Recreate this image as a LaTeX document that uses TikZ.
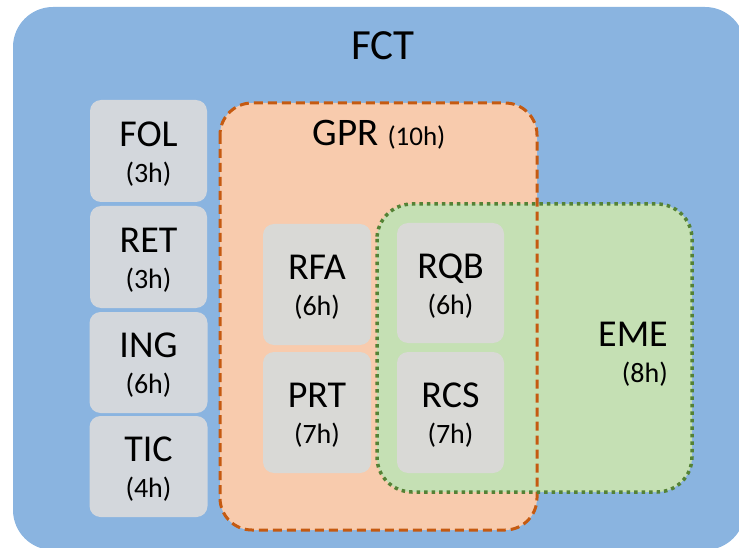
\documentclass[tikz,border=0pt]{standalone}
\usepackage{fontspec}
\setmainfont{Carlito}
\definecolor{fctblue}{HTML}{8AB4E0}
\definecolor{gprfill}{HTML}{F8CBAD}
\definecolor{gprline}{HTML}{C55A11}
\definecolor{emefill}{HTML}{C5E0B4}
\definecolor{emeline}{HTML}{548235}
\definecolor{grayL}{HTML}{D3D7DC}
\definecolor{grayI}{HTML}{D9D9D6}
\newcommand{\namefont}{\fontsize{38}{36}\selectfont}
\newcommand{\hrsfont}{\fontsize{28}{36}\selectfont}
\tikzset{
  course/.style={fill=grayL, draw=none, rounded corners=11pt, inner sep=0pt},
  incourse/.style={course, fill=grayI},
  coursetext/.style={align=center, font=\hrsfont, inner sep=0pt, yshift=-3pt},
}
\begin{document}
\begin{tikzpicture}[x=1pt,y=-1pt]
\useasboundingbox (0,0) rectangle (739,548);
% FCT
\path[fill=fctblue, rounded corners=40pt] (13,7) rectangle (745,550);
\node[font=\fontsize{43}{45}\selectfont, anchor=center] (fct) at (383,46) {FCT};
% fills
\path[fill=gprfill, rounded corners=32pt] (220,103) rectangle (537,530);
\path[fill=emefill, rounded corners=35pt] (377,204) rectangle (692,492);
% borders
\draw[gprline, line width=3pt, dash pattern=on 9pt off 5pt, rounded corners=32pt] (220,103) rectangle (537,530);
\draw[emeline, line width=3.5pt, dash pattern=on 3.5pt off 4pt, rounded corners=35pt] (377,204) rectangle (692,492);
% labels
\node[anchor=center] (gpr) at (379,135) {{\fontsize{39}{40}\selectfont GPR}\hspace{9pt}{\fontsize{27}{30}\selectfont (10h)}};
\node[align=right, anchor=east, font=\hrsfont, inner sep=0pt] (eme) at (668,354) {{\namefont EME}\\(8h)};
% left column
\node[course, minimum width=117pt, minimum height=102pt] (fol) at (148.5,151) {};
\node[course, minimum width=117pt, minimum height=102pt] (ret) at (148.5,257) {};
\node[course, minimum width=118pt, minimum height=101pt] (ing) at (148.5,362.5) {};
\node[course, minimum width=118pt, minimum height=101pt] (tic) at (148.5,466.5) {};
\node[coursetext] (folt) at (fol.center) {{\namefont FOL}\\(3h)};
\node[coursetext] (rett) at (ret.center) {{\namefont RET}\\(3h)};
\node[coursetext] (ingt) at (ing.center) {{\namefont ING}\\(6h)};
\node[coursetext] (tict) at (tic.center) {{\namefont TIC}\\(4h)};
% inner
\node[incourse, minimum width=108pt, minimum height=121pt] (rfa) at (317,284.5) {};
\node[incourse, minimum width=108pt, minimum height=121pt] (prt) at (317,412.5) {};
\node[incourse, minimum width=107pt, minimum height=120pt] (rqb) at (450.5,283) {};
\node[incourse, minimum width=107pt, minimum height=121pt] (rcs) at (450.5,412.5) {};
\node[coursetext] (rfat) at (rfa.center) {{\namefont RFA}\\(6h)};
\node[coursetext] (prtt) at (prt.center) {{\namefont PRT}\\(7h)};
\node[coursetext] (rqbt) at (rqb.center) {{\namefont RQB}\\(6h)};
\node[coursetext] (rcst) at (rcs.center) {{\namefont RCS}\\(7h)};
\end{tikzpicture}
\end{document}
